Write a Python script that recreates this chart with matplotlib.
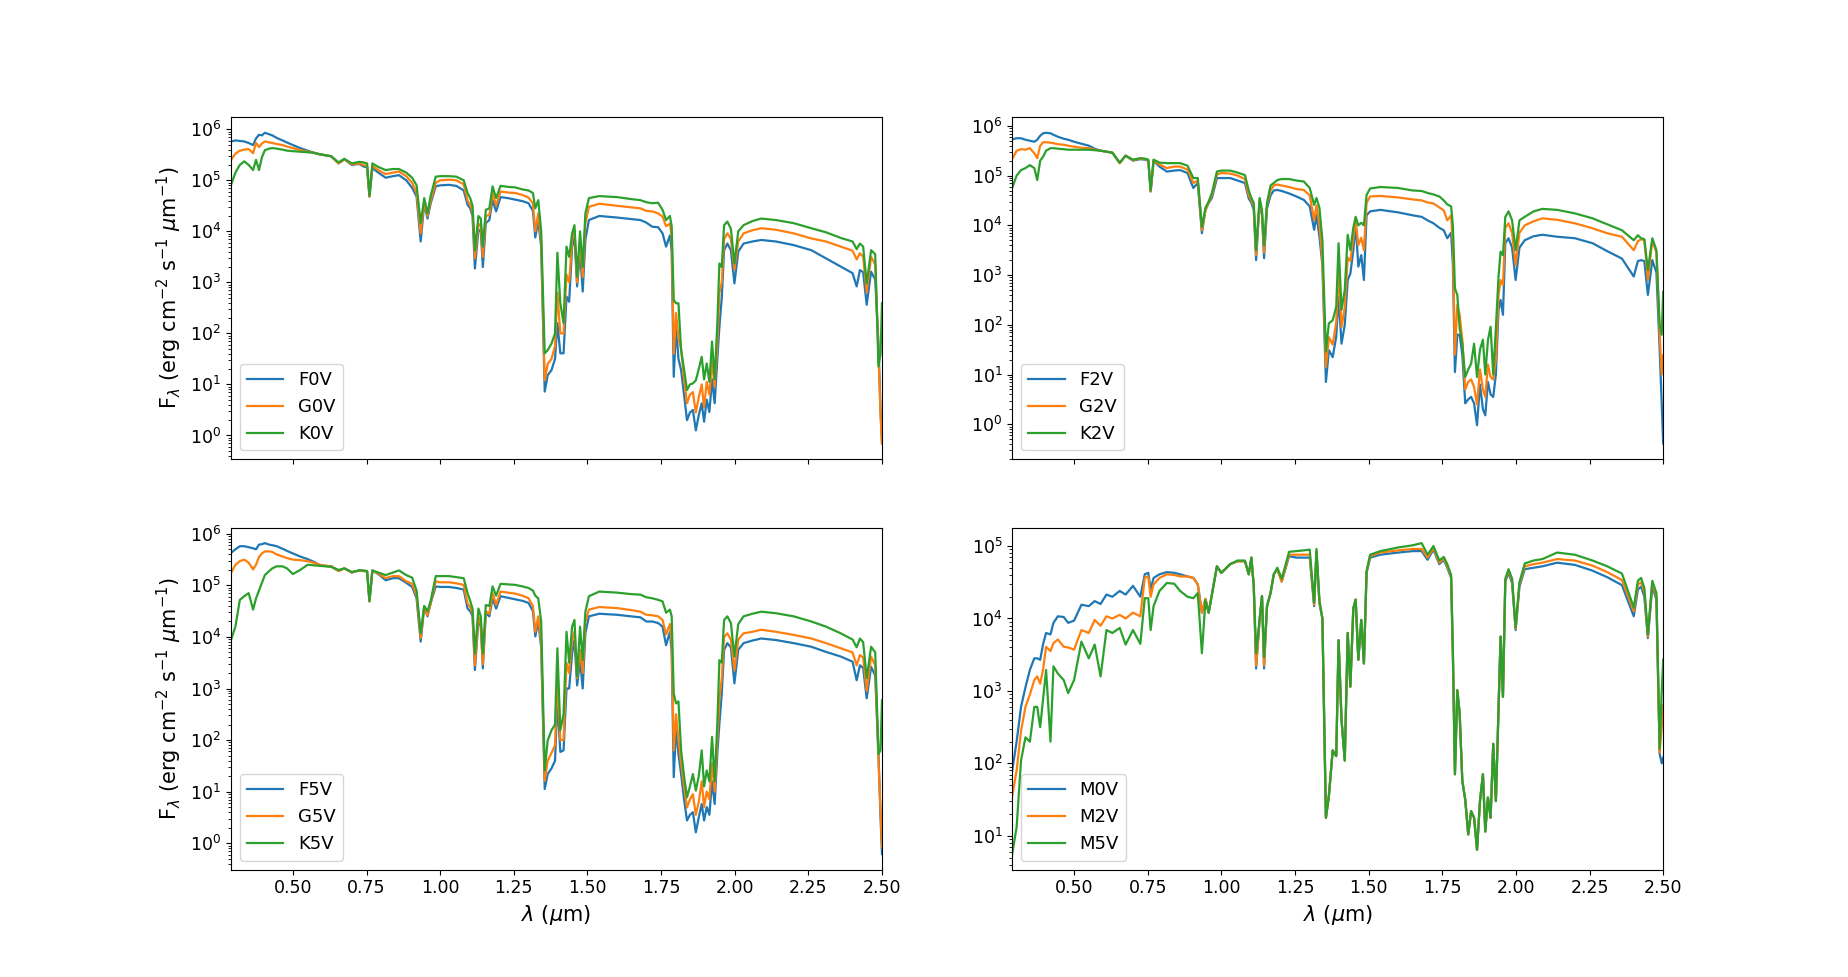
import numpy as np
import matplotlib
matplotlib.use("Agg")
import matplotlib.pyplot as plt

# wavelength grid (micron)
wavelength = [
    0.290, 0.305, 0.320, 0.335, 0.350, 0.365, 0.375, 0.385, 0.395, 0.405,
    0.420, 0.430, 0.445, 0.465, 0.480, 0.500, 0.525, 0.550, 0.570, 0.590,
    0.610, 0.630, 0.655, 0.675, 0.700, 0.725, 0.740, 0.752, 0.760, 0.770,
    0.790, 0.815, 0.840, 0.860, 0.885, 0.905, 0.920, 0.934, 0.946, 0.957,
    0.968, 0.985, 1.000, 1.030, 1.055, 1.080, 1.093, 1.102, 1.110, 1.118,
    1.130, 1.138, 1.145, 1.155, 1.167, 1.178, 1.190, 1.205, 1.230, 1.255,
    1.280, 1.300, 1.315, 1.323, 1.333, 1.343, 1.355, 1.365, 1.378, 1.390,
    1.398, 1.408, 1.419, 1.429, 1.438, 1.448, 1.456, 1.465, 1.475, 1.484,
    1.493, 1.505, 1.540, 1.600, 1.650, 1.680, 1.700, 1.720, 1.740, 1.755,
    1.767, 1.780, 1.786, 1.793, 1.801, 1.809, 1.818, 1.828, 1.838, 1.848,
    1.858, 1.868, 1.878, 1.888, 1.896, 1.905, 1.914, 1.923, 1.932, 1.941,
    1.948, 1.956, 1.964, 1.975, 1.987, 1.999, 2.012, 2.030, 2.060, 2.090,
    2.140, 2.200, 2.260, 2.310, 2.360, 2.400, 2.414, 2.425, 2.436, 2.448,
    2.463, 2.477, 2.488, 2.495, 2.500,
]

# log10 flux values
F0V = [
    5.76, 5.78, 5.77, 5.76, 5.73, 5.69, 5.82, 5.89, 5.88, 5.93,
    5.90, 5.88, 5.83, 5.78, 5.74, 5.69, 5.63, 5.58, 5.54, 5.51,
    5.49, 5.47, 5.33, 5.41, 5.30, 5.32, 5.27, 5.25, 4.68, 5.24,
    5.15, 5.05, 5.08, 5.10, 5.00, 4.85, 4.68, 3.80, 4.55, 4.25,
    4.55, 4.88, 4.90, 4.91, 4.89, 4.80, 4.52, 4.45, 4.30, 3.27,
    4.03, 4.00, 3.30, 4.16, 4.22, 4.61, 4.39, 4.67, 4.65, 4.62,
    4.59, 4.55, 4.40, 3.88, 4.20, 3.70, 0.86, 1.18, 1.28, 1.50,
    2.20, 1.61, 1.61, 2.72, 2.62, 3.70, 3.90, 2.92, 3.60, 2.82,
    3.83, 4.22, 4.30, 4.27, 4.24, 4.22, 4.17, 4.09, 4.08, 3.96,
    3.70, 3.92, 3.60, 1.15, 2.13, 1.50, 1.28, 0.80, 0.30, 0.45,
    0.50, 0.10, 0.40, 0.63, 0.27, 0.70, 0.46, 1.10, 0.63, 1.50,
    2.13, 2.70, 3.63, 3.76, 3.63, 2.98, 3.60, 3.76, 3.80, 3.83,
    3.80, 3.73, 3.63, 3.47, 3.31, 3.18, 2.92, 3.24, 3.20, 2.56,
    3.21, 3.05, 1.80, 0.50, -0.16,
]
G0V = [
    5.40, 5.52, 5.58, 5.60, 5.61, 5.53, 5.73, 5.65, 5.72, 5.76,
    5.74, 5.73, 5.71, 5.69, 5.66, 5.63, 5.59, 5.56, 5.54, 5.51,
    5.49, 5.47, 5.33, 5.41, 5.31, 5.33, 5.30, 5.28, 4.68, 5.28,
    5.20, 5.12, 5.15, 5.17, 5.08, 4.95, 4.75, 3.96, 4.58, 4.30,
    4.60, 4.95, 5.00, 5.01, 5.00, 4.92, 4.60, 4.52, 4.38, 3.47,
    4.15, 4.10, 3.50, 4.30, 4.32, 4.75, 4.50, 4.78, 4.76, 4.75,
    4.71, 4.66, 4.55, 4.00, 4.35, 3.80, 1.08, 1.40, 1.50, 1.75,
    2.80, 2.00, 2.00, 3.15, 3.00, 3.85, 4.00, 3.00, 3.80, 3.10,
    4.15, 4.48, 4.54, 4.50, 4.47, 4.45, 4.40, 4.39, 4.35, 4.29,
    4.10, 4.15, 3.90, 1.60, 2.40, 1.90, 1.70, 1.10, 0.63, 0.80,
    0.85, 0.45, 0.75, 1.00, 0.55, 1.05, 0.80, 1.45, 0.95, 1.80,
    2.80, 3.00, 3.85, 3.96, 3.85, 3.25, 3.80, 3.96, 4.02, 4.06,
    4.03, 3.96, 3.86, 3.80, 3.70, 3.62, 3.45, 3.57, 3.50, 2.80,
    3.50, 3.35, 1.60, 0.40, -0.16,
]
K0V = [
    4.91, 5.15, 5.30, 5.37, 5.30, 5.20, 5.40, 5.20, 5.45, 5.59,
    5.62, 5.63, 5.62, 5.60, 5.58, 5.57, 5.56, 5.55, 5.54, 5.51,
    5.49, 5.47, 5.35, 5.42, 5.33, 5.36, 5.35, 5.33, 4.70, 5.33,
    5.26, 5.20, 5.22, 5.22, 5.15, 5.05, 4.90, 4.16, 4.65, 4.35,
    4.70, 5.07, 5.08, 5.08, 5.07, 5.00, 4.75, 4.65, 4.50, 3.63,
    4.30, 4.25, 3.70, 4.42, 4.45, 4.88, 4.65, 4.89, 4.87, 4.86,
    4.82, 4.80, 4.75, 4.45, 4.61, 4.00, 1.61, 1.67, 1.80, 2.00,
    3.58, 2.59, 2.20, 3.70, 3.50, 3.96, 4.12, 3.11, 4.00, 3.30,
    4.35, 4.65, 4.69, 4.67, 4.63, 4.61, 4.57, 4.55, 4.56, 4.42,
    4.22, 4.30, 4.10, 2.65, 2.59, 2.59, 1.67, 1.30, 0.89, 1.00,
    1.02, 1.08, 1.30, 1.54, 1.10, 1.41, 1.05, 1.84, 1.10, 2.20,
    3.37, 3.30, 4.12, 4.19, 4.05, 3.37, 4.00, 4.12, 4.20, 4.25,
    4.22, 4.16, 4.06, 3.98, 3.87, 3.80, 3.65, 3.76, 3.70, 2.98,
    3.63, 3.55, 1.35, 1.60, 2.59,
]

F2V = [
    5.73, 5.75, 5.75, 5.72, 5.70, 5.68, 5.72, 5.80, 5.85, 5.86,
    5.85, 5.82, 5.78, 5.74, 5.72, 5.68, 5.64, 5.60, 5.54, 5.50,
    5.48, 5.46, 5.25, 5.40, 5.30, 5.33, 5.32, 5.30, 4.68, 5.30,
    5.18, 5.08, 5.10, 5.11, 5.05, 4.75, 4.85, 3.84, 4.31, 4.45,
    4.55, 4.95, 4.95, 4.95, 4.90, 4.85, 4.54, 4.45, 4.31, 3.30,
    4.48, 4.20, 3.34, 4.34, 4.60, 4.70, 4.71, 4.69, 4.64, 4.58,
    4.51, 4.38, 3.91, 4.20, 3.77, 3.20, 0.85, 1.49, 1.35, 1.76,
    2.56, 1.62, 2.00, 2.90, 3.03, 3.50, 4.04, 3.17, 3.40, 2.90,
    4.20, 4.28, 4.31, 4.26, 4.20, 4.17, 4.10, 4.04, 3.95, 3.90,
    3.74, 3.85, 3.20, 1.05, 1.80, 1.80, 1.40, 0.42, 0.50, 0.55,
    0.42, -0.02, 0.80, 0.30, 0.18, 0.85, 0.60, 0.55, 1.00, 2.30,
    2.50, 2.20, 3.64, 3.74, 3.55, 2.90, 3.55, 3.70, 3.78, 3.81,
    3.77, 3.74, 3.64, 3.48, 3.33, 2.97, 3.28, 3.30, 3.28, 2.60,
    3.30, 3.05, 1.50, 0.40, -0.39,
]
G2V = [
    5.33, 5.50, 5.53, 5.52, 5.55, 5.45, 5.35, 5.60, 5.67, 5.67,
    5.66, 5.65, 5.63, 5.62, 5.60, 5.58, 5.56, 5.55, 5.52, 5.50,
    5.48, 5.46, 5.25, 5.40, 5.31, 5.34, 5.33, 5.31, 4.68, 5.31,
    5.22, 5.15, 5.18, 5.18, 5.12, 4.85, 4.90, 3.90, 4.30, 4.46,
    4.60, 5.02, 5.05, 5.04, 5.00, 4.93, 4.60, 4.50, 4.38, 3.40,
    4.50, 4.25, 3.45, 4.40, 4.70, 4.80, 4.82, 4.80, 4.77, 4.73,
    4.71, 4.60, 4.10, 4.40, 4.00, 3.30, 1.15, 1.75, 1.60, 2.05,
    3.10, 1.95, 2.35, 3.35, 3.28, 3.75, 4.10, 3.60, 3.75, 3.50,
    4.45, 4.58, 4.59, 4.56, 4.52, 4.50, 4.46, 4.44, 4.36, 4.30,
    4.10, 4.20, 3.60, 1.40, 2.40, 2.20, 1.70, 0.70, 0.85, 0.90,
    0.75, 0.40, 1.10, 0.70, 0.55, 1.20, 0.95, 0.90, 1.30, 2.60,
    2.90, 2.80, 3.95, 4.04, 3.85, 3.20, 3.85, 4.00, 4.08, 4.14,
    4.11, 4.04, 3.94, 3.84, 3.77, 3.50, 3.68, 3.72, 3.70, 2.90,
    3.70, 3.45, 1.80, 1.00, 1.39,
]
K2V = [
    4.75, 5.00, 5.11, 5.15, 5.21, 5.15, 4.91, 5.30, 5.38, 5.50,
    5.55, 5.55, 5.54, 5.53, 5.52, 5.52, 5.52, 5.52, 5.51, 5.50,
    5.48, 5.46, 5.26, 5.40, 5.32, 5.35, 5.34, 5.32, 4.70, 5.32,
    5.26, 5.25, 5.25, 5.25, 5.20, 4.95, 4.95, 3.97, 4.35, 4.48,
    4.65, 5.08, 5.10, 5.10, 5.06, 5.01, 4.70, 4.55, 4.45, 3.50,
    4.55, 4.30, 3.60, 4.45, 4.80, 4.85, 4.91, 4.93, 4.93, 4.90,
    4.88, 4.75, 4.41, 4.55, 4.35, 3.70, 1.46, 2.03, 2.09, 2.36,
    3.64, 2.30, 2.70, 3.81, 3.50, 3.95, 4.17, 4.00, 4.05, 4.00,
    4.61, 4.74, 4.77, 4.75, 4.70, 4.69, 4.65, 4.62, 4.58, 4.50,
    4.42, 4.38, 4.00, 2.73, 2.60, 1.93, 1.62, 0.95, 1.10, 1.22,
    1.62, 0.95, 1.50, 1.70, 1.00, 1.69, 1.96, 1.00, 1.93, 2.97,
    3.47, 3.40, 4.17, 4.28, 4.10, 3.50, 4.10, 4.17, 4.28, 4.33,
    4.31, 4.24, 4.14, 4.02, 3.90, 3.70, 3.80, 3.74, 3.72, 3.10,
    3.74, 3.50, 2.00, 1.80, 2.66,
]

F5V = [
    5.63, 5.70, 5.76, 5.76, 5.74, 5.72, 5.70, 5.79, 5.80, 5.82,
    5.79, 5.78, 5.76, 5.71, 5.67, 5.62, 5.56, 5.51, 5.46, 5.40,
    5.38, 5.37, 5.28, 5.33, 5.25, 5.29, 5.28, 5.27, 4.69, 5.29,
    5.22, 5.10, 5.14, 5.14, 5.05, 4.97, 4.75, 3.91, 4.59, 4.40,
    4.66, 4.98, 4.97, 4.97, 4.95, 4.92, 4.55, 4.50, 4.40, 3.36,
    4.33, 4.20, 3.39, 4.46, 4.40, 4.75, 4.55, 4.79, 4.76, 4.73,
    4.70, 4.66, 4.50, 4.01, 4.30, 3.80, 1.05, 1.34, 1.45, 1.60,
    2.77, 1.77, 1.80, 3.00, 3.00, 3.68, 3.94, 3.06, 3.55, 3.00,
    4.07, 4.40, 4.45, 4.43, 4.40, 4.38, 4.30, 4.30, 4.27, 4.20,
    3.84, 4.10, 3.70, 1.28, 2.25, 1.73, 1.34, 0.85, 0.44, 0.55,
    0.60, 0.21, 0.50, 0.76, 0.44, 0.70, 0.55, 1.20, 0.76, 1.75,
    2.32, 2.90, 3.75, 3.88, 3.80, 3.10, 3.75, 3.88, 3.93, 3.97,
    3.94, 3.88, 3.81, 3.71, 3.62, 3.52, 3.16, 3.45, 3.40, 2.81,
    3.42, 3.25, 1.75, 0.50, -0.21,
]
G5V = [
    5.24, 5.40, 5.47, 5.50, 5.44, 5.31, 5.40, 5.55, 5.62, 5.66,
    5.66, 5.65, 5.60, 5.56, 5.53, 5.50, 5.49, 5.47, 5.44, 5.40,
    5.38, 5.37, 5.28, 5.33, 5.25, 5.29, 5.28, 5.27, 4.69, 5.29,
    5.23, 5.14, 5.18, 5.18, 5.08, 5.03, 4.80, 3.98, 4.59, 4.42,
    4.66, 5.08, 5.06, 5.06, 5.04, 5.01, 4.65, 4.58, 4.45, 3.45,
    4.40, 4.25, 3.47, 4.50, 4.45, 4.85, 4.62, 4.88, 4.86, 4.84,
    4.80, 4.75, 4.60, 4.10, 4.40, 3.90, 1.21, 1.60, 1.75, 1.90,
    3.20, 2.00, 2.00, 3.50, 3.30, 3.95, 4.10, 3.20, 3.75, 3.30,
    4.30, 4.53, 4.58, 4.56, 4.52, 4.49, 4.43, 4.42, 4.40, 4.33,
    4.05, 4.25, 3.90, 1.80, 2.50, 2.00, 1.55, 1.10, 0.69, 0.85,
    0.95, 0.55, 0.80, 1.20, 0.70, 1.00, 0.85, 1.55, 1.00, 2.00,
    2.80, 3.20, 4.00, 4.07, 3.95, 3.35, 3.95, 4.07, 4.10, 4.14,
    4.10, 4.04, 3.97, 3.88, 3.78, 3.70, 3.45, 3.65, 3.60, 2.95,
    3.62, 3.45, 1.60, 0.60, -0.08,
]
K5V = [
    3.94, 4.20, 4.72, 4.79, 4.85, 4.53, 4.75, 4.90, 5.05, 5.20,
    5.28, 5.33, 5.37, 5.37, 5.33, 5.22, 5.30, 5.40, 5.39, 5.38,
    5.37, 5.36, 5.30, 5.33, 5.26, 5.29, 5.29, 5.28, 4.70, 5.29,
    5.25, 5.20, 5.25, 5.29, 5.20, 5.15, 4.90, 4.07, 4.60, 4.50,
    4.70, 5.18, 5.18, 5.18, 5.16, 5.14, 4.85, 4.70, 4.55, 3.68,
    4.55, 4.40, 3.68, 4.62, 4.60, 4.98, 4.80, 5.03, 5.02, 5.01,
    4.98, 4.95, 4.90, 4.80, 4.75, 4.30, 1.41, 1.99, 2.19, 2.30,
    3.78, 2.19, 2.50, 4.10, 3.50, 4.20, 4.33, 3.23, 4.20, 3.55,
    4.49, 4.79, 4.88, 4.86, 4.83, 4.82, 4.77, 4.75, 4.72, 4.69,
    4.47, 4.53, 4.40, 2.90, 2.71, 2.75, 1.80, 1.30, 0.89, 1.10,
    1.34, 1.02, 1.30, 1.80, 1.10, 1.41, 1.20, 2.06, 1.20, 2.32,
    3.55, 3.50, 4.33, 4.40, 4.27, 3.62, 4.25, 4.40, 4.45, 4.49,
    4.46, 4.40, 4.30, 4.20, 4.07, 3.95, 3.80, 3.97, 3.90, 3.20,
    3.81, 3.70, 1.73, 1.80, 2.77,
]

M0V = [
    1.90, 2.30, 2.78, 3.05, 3.29, 3.45, 3.45, 3.43, 3.65, 3.80,
    3.78, 3.94, 4.03, 4.02, 3.94, 3.97, 4.19, 4.17, 4.24, 4.20,
    4.33, 4.30, 4.38, 4.33, 4.45, 4.30, 4.61, 4.63, 4.40, 4.56,
    4.61, 4.64, 4.63, 4.61, 4.58, 4.56, 4.47, 4.08, 4.27, 4.08,
    4.33, 4.72, 4.63, 4.75, 4.79, 4.79, 4.61, 4.84, 4.45, 3.31,
    3.98, 4.31, 3.31, 4.17, 4.35, 4.61, 4.68, 4.51, 4.86, 4.84,
    4.84, 4.84, 4.17, 4.91, 4.21, 4.00, 1.25, 1.55, 2.18, 2.10,
    3.70, 2.60, 2.04, 3.80, 3.06, 4.14, 4.26, 3.43, 3.98, 3.38,
    4.63, 4.84, 4.88, 4.91, 4.93, 4.93, 4.81, 4.95, 4.75, 4.81,
    4.70, 4.56, 3.50, 1.85, 3.01, 2.69, 1.76, 1.50, 1.02, 1.34,
    1.25, 0.81, 1.48, 1.85, 1.06, 1.53, 1.25, 2.27, 1.48, 2.78,
    3.75, 2.92, 4.51, 4.63, 4.49, 3.84, 4.44, 4.68, 4.70, 4.72,
    4.77, 4.74, 4.66, 4.57, 4.46, 4.03, 4.40, 4.44, 4.30, 3.73,
    4.44, 4.26, 2.13, 2.00, 2.08,
]
M2V = [
    1.55, 1.90, 2.45, 2.78, 2.95, 3.15, 3.20, 3.10, 3.30, 3.61,
    3.55, 3.66, 3.71, 3.61, 3.60, 3.57, 3.84, 3.80, 3.98, 3.90,
    4.03, 4.00, 4.05, 4.00, 4.08, 4.03, 4.56, 4.58, 4.30, 4.47,
    4.56, 4.61, 4.60, 4.58, 4.58, 4.56, 4.47, 4.08, 4.27, 4.08,
    4.33, 4.72, 4.63, 4.75, 4.79, 4.79, 4.61, 4.84, 4.45, 3.35,
    4.00, 4.31, 3.35, 4.17, 4.35, 4.61, 4.68, 4.51, 4.88, 4.88,
    4.88, 4.88, 4.19, 4.93, 4.22, 4.00, 1.25, 1.55, 2.18, 2.10,
    3.70, 2.60, 2.04, 3.80, 3.06, 4.14, 4.26, 3.43, 3.98, 3.38,
    4.64, 4.86, 4.91, 4.94, 4.96, 4.96, 4.84, 4.97, 4.77, 4.83,
    4.72, 4.58, 3.50, 1.85, 3.01, 2.69, 1.76, 1.50, 1.02, 1.34,
    1.25, 0.81, 1.48, 1.85, 1.06, 1.53, 1.25, 2.27, 1.48, 2.78,
    3.75, 2.92, 4.53, 4.66, 4.52, 3.86, 4.47, 4.72, 4.75, 4.77,
    4.82, 4.80, 4.73, 4.64, 4.53, 4.10, 4.47, 4.50, 4.36, 3.75,
    4.50, 4.30, 2.15, 2.50, 2.80,
]
M5V = [
    0.75, 1.12, 2.04, 2.36, 2.30, 2.78, 2.78, 2.50, 2.90, 3.29,
    2.30, 3.34, 3.24, 3.15, 2.97, 3.15, 3.68, 3.45, 3.64, 3.20,
    3.84, 3.80, 3.87, 3.64, 3.84, 3.65, 4.28, 4.28, 3.84, 4.17,
    4.38, 4.49, 4.48, 4.38, 4.30, 4.28, 4.35, 3.52, 4.25, 4.08,
    4.33, 4.72, 4.63, 4.75, 4.80, 4.80, 4.61, 4.84, 4.45, 3.52,
    4.00, 4.31, 3.47, 4.17, 4.35, 4.61, 4.70, 4.55, 4.92, 4.93,
    4.94, 4.95, 4.22, 4.96, 4.25, 4.00, 1.25, 1.55, 2.18, 2.10,
    3.70, 2.60, 2.04, 3.80, 3.06, 4.14, 4.26, 3.43, 3.98, 3.38,
    4.65, 4.88, 4.93, 4.98, 5.01, 5.04, 4.88, 5.00, 4.80, 4.85,
    4.75, 4.60, 3.55, 1.85, 3.01, 2.69, 1.76, 1.50, 1.02, 1.34,
    1.25, 0.81, 1.48, 1.85, 1.06, 1.53, 1.25, 2.27, 1.48, 2.78,
    3.75, 2.92, 4.55, 4.68, 4.55, 3.88, 4.50, 4.76, 4.80, 4.82,
    4.91, 4.88, 4.80, 4.72, 4.62, 4.15, 4.52, 4.56, 4.42, 3.78,
    4.52, 4.35, 2.20, 3.00, 3.43,
]

panels = [
    [("F0V", F0V), ("G0V", G0V), ("K0V", K0V)],
    [("F2V", F2V), ("G2V", G2V), ("K2V", K2V)],
    [("F5V", F5V), ("G5V", G5V), ("K5V", K5V)],
    [("M0V", M0V), ("M2V", M2V), ("M5V", M5V)],
]

wl = np.array(wavelength)
fig, axes = plt.subplots(2, 2, figsize=(18.48, 9.77), dpi=100, sharex=True)
for ax, series in zip(axes.flat, panels):
    for name, logf in series:
        ax.plot(wl, 10.0 ** np.array(logf), label=name, lw=1.6)
    ax.set_yscale("log")
    ax.set_xlim(wl[0], wl[-1])
    ax.tick_params(labelsize=12.5)
    ax.legend(loc="lower left", fontsize=13)

ylab = r"F$_\lambda$ (erg cm$^{-2}$ s$^{-1}$ $\mu$m$^{-1}$)"
axes[0, 0].set_ylabel(ylab, fontsize=15)
axes[1, 0].set_ylabel(ylab, fontsize=15)
axes[1, 0].set_xlabel(r"$\lambda$ ($\mu$m)", fontsize=15)
axes[1, 1].set_xlabel(r"$\lambda$ ($\mu$m)", fontsize=15)

fig.savefig("out.png", dpi=100)
